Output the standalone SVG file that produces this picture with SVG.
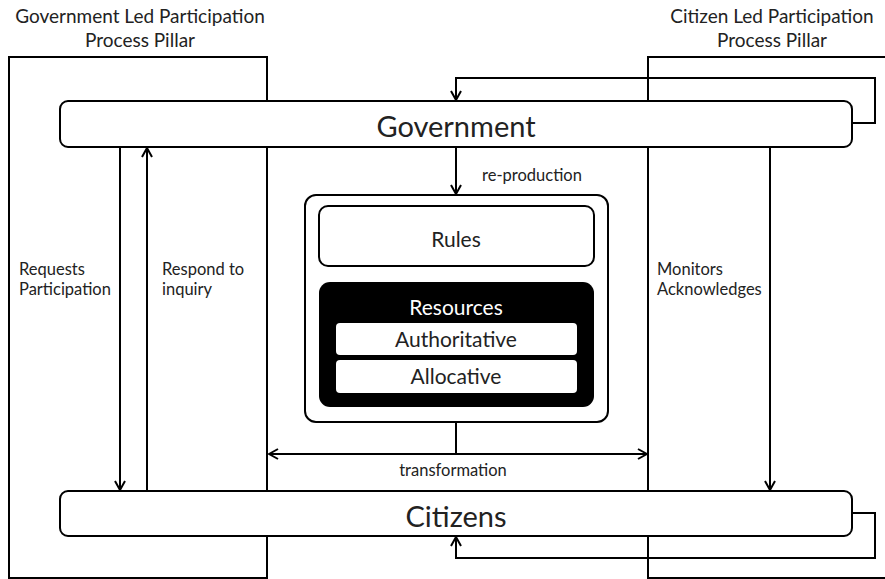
<svg xmlns="http://www.w3.org/2000/svg" width="885" height="579" viewBox="0 0 885 579">
<style>
text{font-family:Lato,"Open Sans","Liberation Sans",sans-serif;fill:#222}
.ln{fill:none;stroke:#000;stroke-width:2}
.box{fill:#fff;stroke:#000;stroke-width:2}
.t15{font-size:19px;text-anchor:middle}
.lab{font-size:16.5px}
.big{font-size:29px;text-anchor:middle}
.mid{font-size:21px;text-anchor:middle}
</style>
<defs>
<marker id="ah" viewBox="0 0 12 12" refX="11" refY="6" markerWidth="12" markerHeight="12" markerUnits="userSpaceOnUse" orient="auto-start-reverse">
<polyline points="2,1 11,6 2,11" fill="none" stroke="#000" stroke-width="2"/>
</marker>
</defs>
<rect width="885" height="579" fill="#fff"/>
<g id="pillar-gov">
<rect class="ln" x="9" y="57" width="258" height="521"/>
<text class="t15" x="140" y="23">Government Led Participation</text>
<text class="t15" x="140" y="47">Process Pillar</text>
</g>
<g id="pillar-citizen">
<path class="ln" d="M886,57 H648 V578 H886"/>
<text class="t15" x="772" y="23">Citizen Led Participation</text>
<text class="t15" x="772" y="47">Process Pillar</text>
</g>
<g id="connectors">
<path class="ln" d="M852,123 H875 V78 H456 V100" marker-end="url(#ah)"/>
<path class="ln" d="M852,513 H875 V558 H456 V537" marker-end="url(#ah)"/>
<path class="ln" d="M120,147 V490" marker-end="url(#ah)"/>
<path class="ln" d="M147,491 V148" marker-end="url(#ah)"/>
<path class="ln" d="M770,147 V490" marker-end="url(#ah)"/>
<path class="ln" d="M456,147 V194" marker-end="url(#ah)"/>
<path class="ln" d="M456,422 V454"/>
<path class="ln" d="M269,454 H647" marker-start="url(#ah)" marker-end="url(#ah)"/>
<text class="lab" x="19" y="275">Requests</text>
<text class="lab" x="19" y="295">Participation</text>
<text class="lab" x="162" y="275">Respond to</text>
<text class="lab" x="162" y="295">inquiry</text>
<text class="lab" x="657" y="275">Monitors</text>
<text class="lab" x="657" y="295">Acknowledges</text>
<text class="lab" x="532" y="181" text-anchor="middle">re-production</text>
<text class="lab" x="453" y="476" text-anchor="middle">transformation</text>
</g>
<g id="government">
<rect class="box" x="60" y="101" width="792" height="46" rx="8"/>
<text class="big" x="456" y="137">Government</text>
</g>
<g id="citizens">
<rect class="box" x="60" y="491" width="792" height="45" rx="8"/>
<text class="big" x="456" y="527">Citizens</text>
</g>
<g id="structure">
<rect class="box" x="305" y="195" width="303" height="227" rx="11"/>
</g>
<g id="rules">
<rect class="box" x="319" y="206" width="275" height="60" rx="9"/>
<text class="mid" x="456" y="247">Rules</text>
</g>
<g id="resources">
<rect x="319" y="282" width="275" height="125" rx="11" fill="#000"/>
<text class="mid" x="456" y="315" style="fill:#fff">Resources</text>
</g>
<g id="authoritative">
<rect x="336" y="323" width="241" height="32" rx="4" fill="#fff"/>
<text class="mid" x="456" y="347">Authoritative</text>
</g>
<g id="allocative">
<rect x="336" y="360" width="241" height="33" rx="4" fill="#fff"/>
<text class="mid" x="456" y="384">Allocative</text>
</g>
</svg>
